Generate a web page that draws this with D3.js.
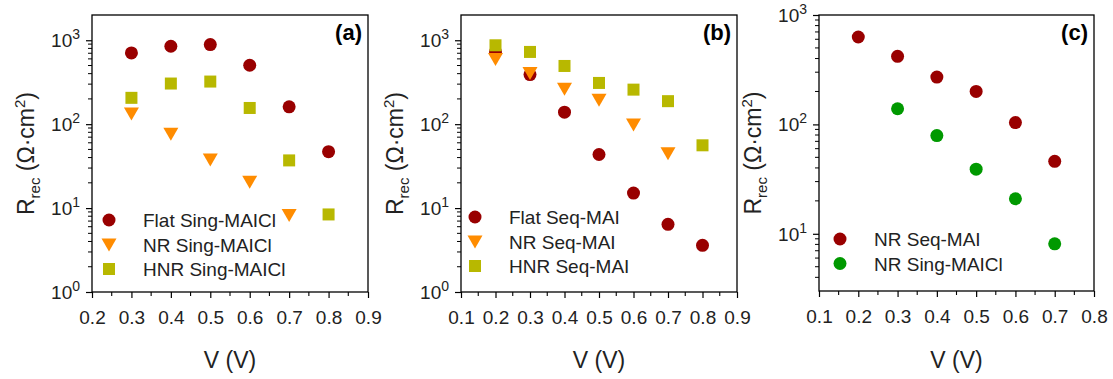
<!DOCTYPE html>
<html>
<head>
<meta charset="utf-8">
<script src="https://cdn.jsdelivr.net/npm/d3@7"></script>
<style>
  body { margin: 0; background: #fff; }
  svg { font-family: "Liberation Sans", Arial, sans-serif; }
</style>
</head>
<body>
<svg id="chart" width="1113" height="379"></svg>
<script>
// panel (a) - single step MAICl
var vA = [0.3, 0.4, 0.5, 0.6, 0.7, 0.8];
var flatSing = [706, 848, 889, 504, 161, 47];
var nrSingA = [134, 77, 38, 20.6, 8.3];
var hnrSing = [206, 305, 322, 156, 37, 8.4];

// panel (b) - sequential MAI
var vB = [0.2, 0.3, 0.4, 0.5, 0.6, 0.7, 0.8];
var flatSeq = [726, 390, 139, 43.5, 15.1, 6.4, 3.6];
var nrSeqB = [600, 408, 264, 196, 99, 45];
var hnrSeq = [871, 726, 494, 310, 258, 188, 56];

// panel (c) - NR comparison
var vC = [0.2, 0.3, 0.4, 0.5, 0.6, 0.7];
var nrSeqC = [629, 419, 271, 200, 104, 46];
var nrSingC = [139, 79, 39, 20.9, 8.1];

var xTicksA = [0.2, 0.3, 0.4, 0.5, 0.6, 0.7, 0.8, 0.9];
var xTicksB = [0.1, 0.2, 0.3, 0.4, 0.5, 0.6, 0.7, 0.8, 0.9];
var xTicksC = [0.1, 0.2, 0.3, 0.4, 0.5, 0.6, 0.7, 0.8];

var darkRed = "#990000", orange = "#ff8c00", olive = "#b8b800", green = "#009900";

var svg = d3.select("#chart");

var panels = [
  { left: 92, right: 368, top: 15, bottom: 292, xdom: [0.2, 0.9], ydom: [1, 2000],
    xticks: xTicksA, ymajor: [1, 10, 100, 1000], tag: "(a)", legX: 109, legY: 220,
    series: [
      { name: "Flat Sing-MAICl", x: vA, y: flatSing, shape: "circle", color: darkRed },
      { name: "NR Sing-MAICl", x: vA.slice(0, 5), y: nrSingA, shape: "tri", color: orange },
      { name: "HNR Sing-MAICl", x: vA, y: hnrSing, shape: "square", color: olive }
    ] },
  { left: 461, right: 737, top: 15, bottom: 292, xdom: [0.1, 0.9], ydom: [1, 2000],
    xticks: xTicksB, ymajor: [1, 10, 100, 1000], tag: "(b)", legX: 475, legY: 217,
    series: [
      { name: "Flat Seq-MAI", x: vB, y: flatSeq, shape: "circle", color: darkRed },
      { name: "NR Seq-MAI", x: vB.slice(0, 6), y: nrSeqB, shape: "tri", color: orange },
      { name: "HNR Seq-MAI", x: vB, y: hnrSeq, shape: "square", color: olive }
    ] },
  { left: 819, right: 1094, top: 15, bottom: 291, xdom: [0.1, 0.8], ydom: [3, 1000],
    xticks: xTicksC, ymajor: [10, 100, 1000], tag: "(c)", legX: 840, legY: 239,
    series: [
      { name: "NR Seq-MAI", x: vC, y: nrSeqC, shape: "circle", color: darkRed },
      { name: "NR Sing-MAICl", x: vC.slice(1), y: nrSingC, shape: "circle", color: green }
    ] }
];

function drawMarker(g, shape, color, cx, cy) {
  if (shape == "circle") {
    g.append("circle").attr("cx", cx).attr("cy", cy).attr("r", 6.5).attr("fill", color);
  } else if (shape == "square") {
    g.append("rect").attr("x", cx - 6).attr("y", cy - 6).attr("width", 12).attr("height", 12).attr("fill", color);
  } else {
    g.append("path")
      .attr("d", "M" + (cx - 7.5) + "," + (cy - 6) + "L" + (cx + 7.5) + "," + (cy - 6) + "L" + cx + "," + (cy + 7) + "Z")
      .attr("fill", color);
  }
}

panels.forEach(function(p) {
  var g = svg.append("g");
  var x = d3.scaleLinear().domain(p.xdom).range([p.left, p.right]);
  var y = d3.scaleLog().domain(p.ydom).range([p.bottom, p.top]);

  // frame
  g.append("rect")
    .attr("x", p.left).attr("y", p.top)
    .attr("width", p.right - p.left).attr("height", p.bottom - p.top)
    .attr("fill", "none").attr("stroke", "#000").attr("stroke-width", 1.3);

  // x axis: major ticks + labels
  var xAxis = g.append("g")
    .attr("transform", "translate(0," + p.bottom + ")")
    .call(d3.axisBottom(x).tickValues(p.xticks).tickSize(6).tickPadding(13)
      .tickFormat(d3.format(".1f")));
  xAxis.select(".domain").remove();
  xAxis.selectAll("text").attr("font-size", 19).attr("fill", "#222")
    .attr("font-family", "Liberation Sans, Arial, sans-serif");
  xAxis.selectAll("line").attr("stroke-width", 1.2);

  // x minor ticks
  var xminor = p.xticks.slice(0, -1).map(function(d) { return d + 0.05; });
  g.selectAll(null).data(xminor).enter().append("line")
    .attr("x1", function(d) { return x(d); }).attr("x2", function(d) { return x(d); })
    .attr("y1", p.bottom).attr("y2", p.bottom + 4)
    .attr("stroke", "#000").attr("stroke-width", 1.1);

  // y axis major ticks
  var yAxis = g.append("g")
    .attr("transform", "translate(" + p.left + ",0)")
    .call(d3.axisLeft(y).tickValues(p.ymajor).tickSize(6).tickFormat(""));
  yAxis.select(".domain").remove();
  yAxis.selectAll("line").attr("stroke-width", 1.2);

  // y labels 10^n
  p.ymajor.forEach(function(v) {
    var t = g.append("text")
      .attr("x", p.left - 12).attr("y", y(v) + 7)
      .attr("text-anchor", "end").attr("font-size", 19).attr("fill", "#222");
    t.append("tspan").text("10");
    t.append("tspan").attr("dy", -8).attr("font-size", 14).text(Math.round(Math.log10(v)));
  });

  // y minor ticks
  var yminor = [];
  for (var e = 0; e < 4; e++) {
    for (var m = 2; m <= 9; m++) {
      var val = m * Math.pow(10, e);
      if (val > p.ydom[0] && val < p.ydom[1]) yminor.push(val);
    }
  }
  g.selectAll(null).data(yminor).enter().append("line")
    .attr("x1", p.left - 4).attr("x2", p.left)
    .attr("y1", function(d) { return y(d); }).attr("y2", function(d) { return y(d); })
    .attr("stroke", "#000").attr("stroke-width", 1);

  // axis titles
  var cx = (p.left + p.right) / 2, cy = (p.top + p.bottom) / 2;
  g.append("text")
    .attr("x", cx).attr("y", 368)
    .attr("text-anchor", "middle").attr("font-size", 23).attr("fill", "#222")
    .text("V (V)");

  var yl = g.append("text")
    .attr("transform", "translate(" + (p.left - 58) + "," + cy + ") rotate(-90)")
    .attr("text-anchor", "middle").attr("font-size", 23).attr("fill", "#222");
  yl.append("tspan").text("R");
  yl.append("tspan").attr("font-size", 15).attr("dy", 6).text("rec");
  yl.append("tspan").attr("dy", -6).text(" (\u03A9\u00B7cm");
  yl.append("tspan").attr("font-size", 15).attr("dy", -9).text("2");
  yl.append("tspan").attr("dy", 9).text(")");

  // panel tag
  g.append("text")
    .attr("x", p.right - 6).attr("y", 40)
    .attr("text-anchor", "end").attr("font-size", 22).attr("font-weight", "bold")
    .text(p.tag);

  // data points
  p.series.forEach(function(s) {
    s.y.forEach(function(v, i) {
      drawMarker(g, s.shape, s.color, x(s.x[i]), y(v));
    });
  });

  // legend
  p.series.forEach(function(s, i) {
    var ly = p.legY + i * 24.5;
    drawMarker(g, s.shape, s.color, p.legX, ly);
    g.append("text")
      .attr("x", p.legX + 34).attr("y", ly + 7)
      .attr("font-size", 19).attr("fill", "#222")
      .text(s.name);
  });
});
</script>
</body>
</html>
